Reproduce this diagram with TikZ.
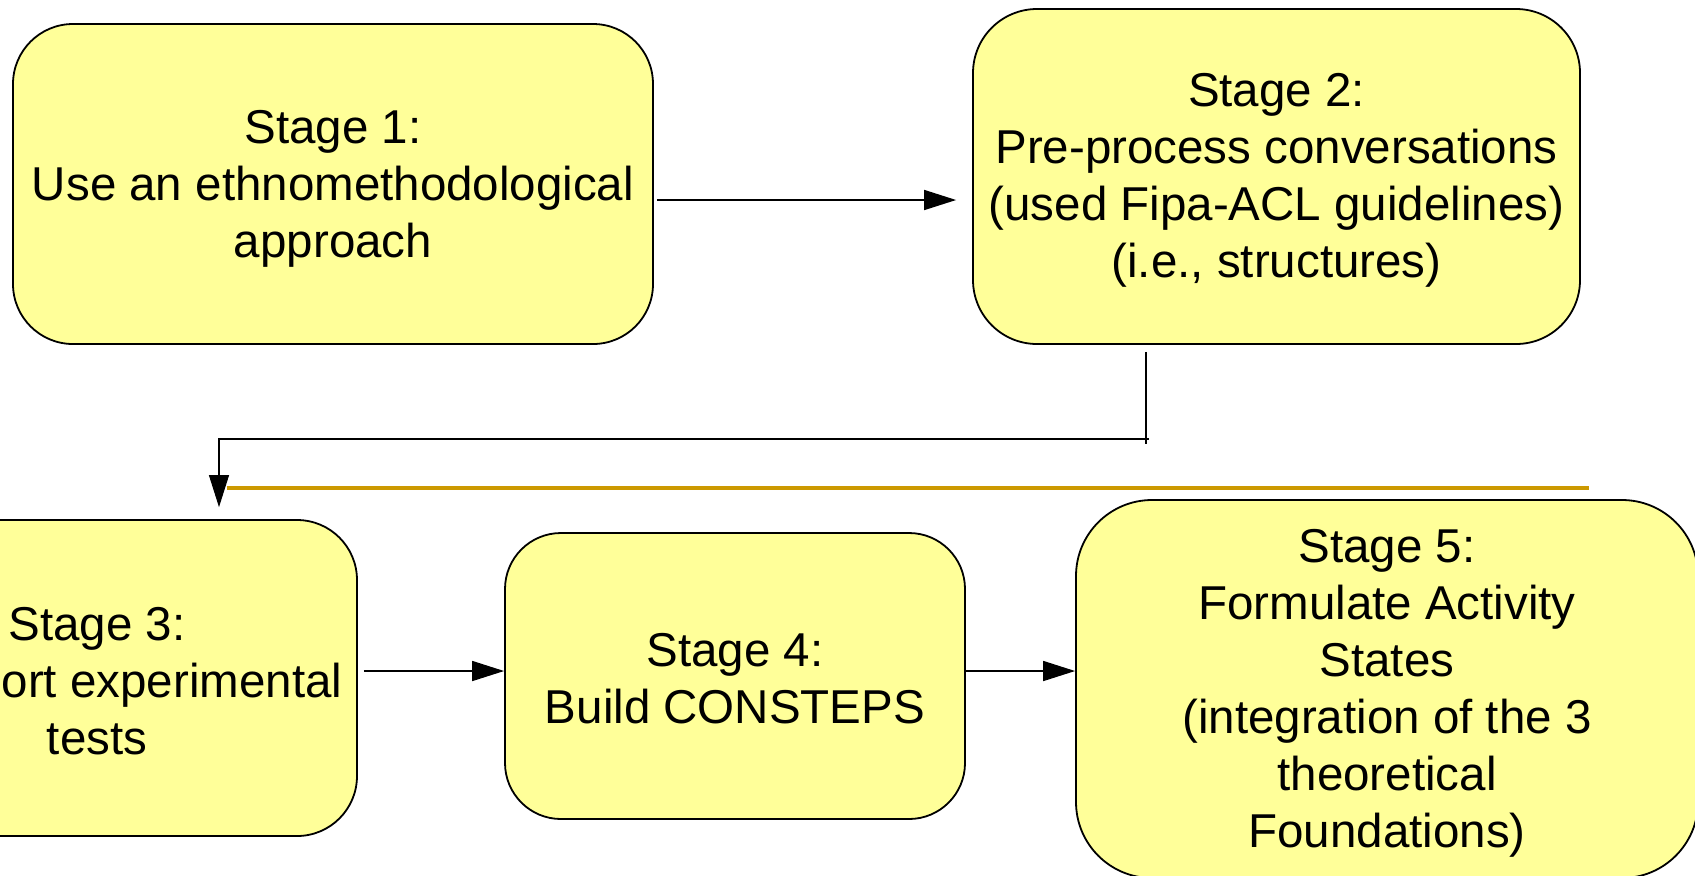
\documentclass[tikz,border=0pt]{standalone}
\usepackage{fontspec}
\setmainfont{Liberation Sans}
\usetikzlibrary{arrows.meta,calc}
\definecolor{boxfill}{HTML}{FFFF99}
\definecolor{rulecol}{HTML}{CC9900}
\begin{document}
\begin{tikzpicture}[x=0.5pt,y=-0.5pt,
  stagebox/.style={draw=black, line width=0.9pt, fill=boxfill, rounded corners=30pt,
    inner sep=0pt},
  stagetext/.style={inner sep=0pt, align=center, font=\fontsize{23.75}{28.5}\selectfont},
  conn/.style={line width=0.8pt, -{Triangle[length=16pt,width=10pt]}},
  thinconn/.style={line width=0.55pt, -{Triangle[length=16pt,width=10pt]}},
  thinline/.style={line width=0.55pt},
  orangerule/.style={draw=rulecol, line width=2.2pt}
]
\useasboundingbox (0,0) rectangle (1695,875);
\clip (0,0) rectangle (1695,875);
\fill[white] (0,0) rectangle (1695,875);

\node[stagebox, minimum width=320pt, minimum height=160pt] (b1) at (333,184) {};
\node[stagebox, minimum width=303.5pt, minimum height=167.5pt, rounded corners=32pt] (b2) at (1276.5,176.5) {};
\node[stagebox, minimum width=260pt, minimum height=158pt] (b3) at (97,678) {};
\node[stagebox, minimum width=230pt, minimum height=143pt, rounded corners=28pt] (b4) at (735,676) {};
\node[stagebox, minimum width=311pt, minimum height=189pt, rounded corners=38pt] (b5) at (1387,689) {};

\node[stagetext] (t1) at ($(b1.center)+(0,5)$)
  {Stage 1:\\Use an ethnomethodological\\approach};
\node[stagetext] (t2) at ($(b2.center)+(0,4)$)
  {Stage 2:\\Pre-process conversations\\(used Fipa-ACL guidelines)\\(i.e., structures)};
\node[stagetext] (t3) at ($(b3.center)+(0,3)$)
  {Stage 3:\\\hspace*{75pt}ort experimental\\tests};
\node[stagetext] (t4) at ($(b4.center)+(0,3)$)
  {Stage 4:\\Build CONSTEPS};
\node[stagetext] (t5) at ($(b5.center)+(0,4)$)
  {Stage 5:\\Formulate Activity\\States\\(integration of the 3\\theoretical\\Foundations)};

% 1 -> 2
\draw[conn] ($(b1.east)+(3,16)$) -- ($(b1.east -| b2.west)+(-16,16)$);

% 2 -> 3
\coordinate (turn) at (1146,439);
\draw[thinline] ($(b2.south -| turn)+(0,7)$) -- ($(turn)+(0,5)$);
\draw[thinconn] ($(turn)+(3,0)$) -| ($(b3.north)+(122,-12)$);

% orange rule
\draw[orangerule] (227,488) -- (1589,488);

% 3 -> 4 and 4 -> 5
\draw[conn] ($(b3.east)+(6,-7)$) -- ($(b3.east -| b4.west)+(0,-7)$);
\draw[conn] ($(b4.east)+(0,-5)$) -- ($(b4.east -| b5.west)+(0,-5)$);
\end{tikzpicture}
\end{document}
